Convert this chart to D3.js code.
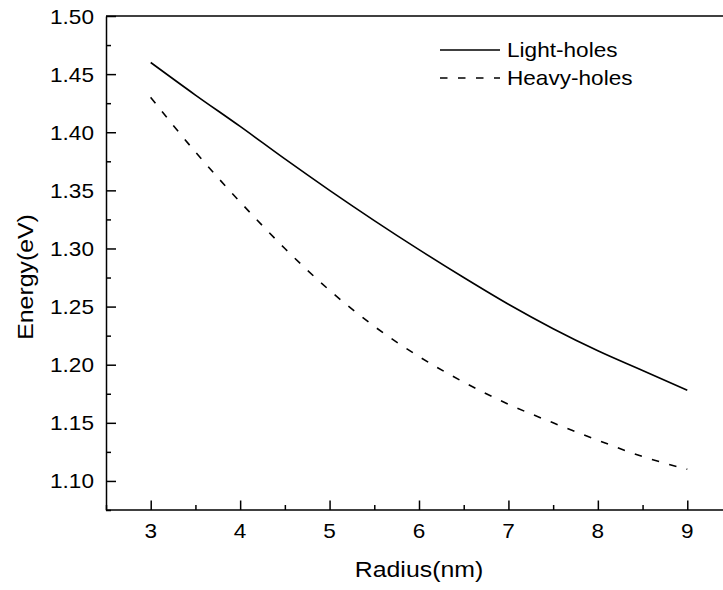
<!DOCTYPE html>
<html>
<head>
<meta charset="utf-8">
<script src="https://cdn.jsdelivr.net/npm/d3@7"></script>
<style>
  html, body { margin: 0; padding: 0; background: #fff; }
  svg { display: block; }
  text { font-family: "Liberation Sans", Arial, Helvetica, sans-serif; fill: #000; }
</style>
</head>
<body>
<svg id="chart" width="723" height="590"></svg>
<script>
// Quantum-dot energy vs. dot radius for light and heavy holes
const radius = [3, 3.5, 4, 4.5, 5, 5.5, 6, 6.5, 7, 7.5, 8, 8.5, 9];
const lightHoles = [1.460, 1.432, 1.405, 1.377, 1.350, 1.324, 1.299, 1.275, 1.252, 1.231, 1.212, 1.195, 1.178];
const heavyHoles = [1.430, 1.383, 1.340, 1.300, 1.264, 1.233, 1.207, 1.185, 1.166, 1.150, 1.135, 1.121, 1.110];

const xTicks = [3, 4, 5, 6, 7, 8, 9];
const xMinor = [2.5, 3.5, 4.5, 5.5, 6.5, 7.5, 8.5, 9.5];
const yTicks = [1.10, 1.15, 1.20, 1.25, 1.30, 1.35, 1.40, 1.45, 1.50];
const yMinor = [1.075, 1.125, 1.175, 1.225, 1.275, 1.325, 1.375, 1.425, 1.475];

const seriesNames = ["Light-holes", "Heavy-holes"];
const seriesDash = [null, "7.5,10.5"];

const svg = d3.select("#chart");
const x = d3.scaleLinear().domain([2.5, 9.5]).range([106, 732]);
const y = d3.scaleLinear().domain([1.075, 1.50]).range([510, 16]);
const stretch = 1.13;

// frame top line
svg.append("line")
  .attr("x1", x(2.5)).attr("x2", 723)
  .attr("y1", y(1.50)).attr("y2", y(1.50))
  .attr("stroke", "#000").attr("stroke-width", 1.3);

// axes with inward ticks
const gx = svg.append("g").attr("transform", `translate(0,${y(1.075)})`)
  .call(d3.axisBottom(x).tickValues(xTicks).tickSizeInner(-9.5).tickSizeOuter(0).tickFormat(""));
const gxm = svg.append("g").attr("transform", `translate(0,${y(1.075)})`)
  .call(d3.axisBottom(x).tickValues(xMinor).tickSizeInner(-5).tickSizeOuter(0).tickFormat(""));
const gy = svg.append("g").attr("transform", `translate(${x(2.5)},0)`)
  .call(d3.axisLeft(y).tickValues(yTicks).tickSizeInner(-10).tickSizeOuter(0).tickFormat(""));
const gym = svg.append("g").attr("transform", `translate(${x(2.5)},0)`)
  .call(d3.axisLeft(y).tickValues(yMinor).tickSizeInner(-5).tickSizeOuter(0).tickFormat(""));
[gx, gxm, gy, gym].forEach(g => {
  g.selectAll("path, line").attr("stroke", "#000").attr("stroke-width", 1.5);
});
gx.select(".domain").attr("d", `M${x(2.5)},0H723`);
gxm.select(".domain").remove();
gym.select(".domain").remove();

// tick labels
svg.append("g").selectAll("text").data(xTicks).join("text")
  .attr("transform", d => `translate(${x(d)},538) scale(${stretch},1)`)
  .attr("text-anchor", "middle").attr("font-size", 20)
  .text(d => d);
svg.append("g").selectAll("text").data(yTicks).join("text")
  .attr("transform", d => `translate(94,${y(d) + 7.5}) scale(${stretch},1)`)
  .attr("text-anchor", "end").attr("font-size", 20)
  .text(d => d.toFixed(2));

// axis titles
svg.append("text")
  .attr("transform", `translate(${(x(2.5) + x(9.5)) / 2},577) scale(${stretch},1)`)
  .attr("text-anchor", "middle").attr("font-size", 22)
  .text("Radius(nm)");
svg.append("text")
  .attr("transform", `translate(33,277) rotate(-90) scale(${stretch},1)`)
  .attr("text-anchor", "middle").attr("font-size", 22)
  .text("Energy(eV)");

// curves
const line = d3.line().x(d => x(d[0])).y(d => y(d[1])).curve(d3.curveMonotoneX);
[lightHoles, heavyHoles].forEach((vals, i) => {
  svg.append("path")
    .datum(radius.map((r, k) => [r, vals[k]]))
    .attr("d", line)
    .attr("fill", "none").attr("stroke", "#000").attr("stroke-width", 1.6)
    .attr("stroke-dasharray", seriesDash[i]);
});

// legend
const legend = svg.append("g");
seriesNames.forEach((name, i) => {
  const ly = 50 + i * 28;
  legend.append("line")
    .attr("x1", 440).attr("x2", 500).attr("y1", ly).attr("y2", ly)
    .attr("stroke", "#000").attr("stroke-width", 1.6)
    .attr("stroke-dasharray", seriesDash[i]);
  legend.append("text")
    .attr("transform", `translate(507,${ly + 7}) scale(${stretch},1)`)
    .attr("font-size", 20)
    .text(name);
});
</script>
</body>
</html>
